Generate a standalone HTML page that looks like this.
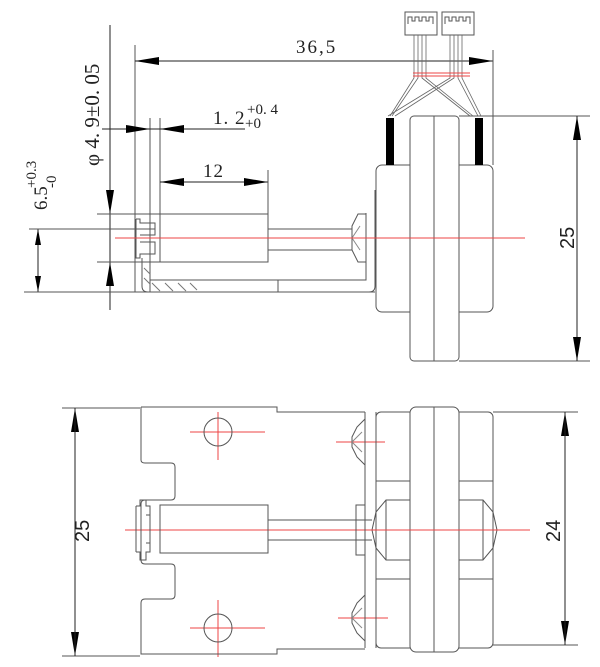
<!DOCTYPE html>
<html><head><meta charset="utf-8"><style>html,body{margin:0;padding:0;background:#fff}svg{display:block}</style></head><body>
<svg width="600" height="667" viewBox="0 0 600 667" xmlns="http://www.w3.org/2000/svg" font-family="'Liberation Serif',serif">
<g fill="none" stroke="#555" stroke-width="1">
<line x1="135" y1="45" x2="135" y2="292"/>
<line x1="135" y1="61" x2="493" y2="61" stroke="#222"/>
<line x1="493" y1="50" x2="493" y2="165"/>
<line x1="150" y1="118" x2="150" y2="292"/>
<line x1="160" y1="118" x2="160" y2="214"/>
<line x1="102" y1="129" x2="245" y2="129" stroke="#222"/>
<line x1="160" y1="182" x2="268" y2="182" stroke="#222"/>
<line x1="268" y1="170" x2="268" y2="214"/>
<line x1="110" y1="25" x2="110" y2="310" stroke="#222"/>
<line x1="97" y1="214" x2="160" y2="214"/>
<line x1="97" y1="262" x2="160" y2="262"/>
<line x1="38" y1="229" x2="38" y2="292" stroke="#222"/>
<line x1="29" y1="229" x2="155" y2="229"/>
<line x1="24" y1="292" x2="375" y2="292"/>
<path d="M136,219 h4 v4 h15 v12 h-15 M136,219 v39 h4 v-4 h15 v-12 h-15"/>
<path d="M142,258 v28 q0,6 6,6 h221 q6,0 6,-6 v-96"/>
<path d="M150,258 v22 h216 v-67"/>
<line x1="278" y1="280" x2="278" y2="292"/>
<path d="M152,283 l8,8 M165,283 l8,8 M178,283 l8,8 M190,283 l7,7 M144,268 l6,6 M144,278 l6,6" stroke="#777"/>
<rect x="160" y="214" width="108" height="48"/>
<line x1="268" y1="229" x2="352" y2="229"/>
<line x1="268" y1="250" x2="352" y2="250"/>
<path d="M366,214 h-8 l-6,12 v24 l6,12 h8"/>
<path d="M352,238 l8,-12 M352,238 l8,12" stroke="#888"/>
<rect x="376" y="165" width="117" height="147" rx="6"/>
<rect x="410" y="116" width="49" height="245" rx="4" fill="#fff"/>
<line x1="434" y1="116" x2="434" y2="361"/>
<line x1="459" y1="116" x2="590" y2="116"/>
<line x1="459" y1="361" x2="590" y2="361"/>
<line x1="577" y1="116" x2="577" y2="361" stroke="#222"/>
<rect x="405" y="12" width="32" height="23"/>
<rect x="442" y="12" width="32" height="23"/>
<path d="M408,24 v-7 h4 v4 h3 v-4 h4 v4 h3 v-4 h4 v4 h3 v-4 h4 v7"/>
<path d="M445,24 v-7 h4 v4 h3 v-4 h4 v4 h3 v-4 h4 v4 h3 v-4 h4 v7"/>
<g stroke="#666" stroke-width="0.8">
<path d="M414,35 v43 L390,116 M418,35 v43 L392,116 M422,35 v43 L470,116 M426,35 v43 L473,116"/>
<path d="M450,35 v43 L388,116 M454,35 v43 L395,116 M458,35 v43 L478,116 M462,35 v43 L481,116"/>
</g>
</g>
<rect x="386" y="118" width="8" height="47" fill="#000"/>
<rect x="475" y="118" width="8" height="47" fill="#000"/>
<g stroke="#e44" stroke-width="1">
<line x1="413" y1="73" x2="470" y2="73"/><line x1="413" y1="76" x2="470" y2="76"/>
<line x1="115" y1="238" x2="525" y2="238"/>
<line x1="125" y1="530" x2="530" y2="530"/>
<line x1="190" y1="432" x2="265" y2="432"/><line x1="218" y1="412" x2="218" y2="460"/>
<line x1="190" y1="628" x2="265" y2="628"/><line x1="218" y1="600" x2="218" y2="657"/>
<line x1="336" y1="442" x2="385" y2="442"/>
<line x1="338" y1="618" x2="388" y2="618"/>
</g>
<g fill="#000">
<path d="M135,61 l24,-4 v8z"/><path d="M493,61 l-24,-4 v8z"/>
<path d="M150,129 l-24,-4 v8z"/><path d="M160,129 l24,-4 v8z"/>
<path d="M160,182 l24,-4 v8z"/><path d="M268,182 l-24,-4 v8z"/>
<path d="M110,214 l-4,-24 h8z"/><path d="M110,262 l-4,24 h8z"/>
<path d="M38,229 l-3,16 h6z"/><path d="M38,292 l-3,-16 h6z"/>
<path d="M577,116 l-4,24 h8z"/><path d="M577,361 l-4,-24 h8z"/>
<path d="M75,408 l-4,24 h8z"/><path d="M75,656 l-4,-24 h8z"/>
<path d="M565,412 l-4,24 h8z"/><path d="M565,645 l-4,-24 h8z"/>
</g>
<g fill="none" stroke="#555" stroke-width="1">
<line x1="62" y1="408" x2="140" y2="408"/>
<line x1="62" y1="656" x2="140" y2="656"/>
<line x1="75" y1="408" x2="75" y2="656" stroke="#222"/>
<line x1="493" y1="412" x2="578" y2="412"/>
<line x1="493" y1="645" x2="578" y2="645"/>
<line x1="565" y1="412" x2="565" y2="645" stroke="#222"/>
<path d="M141,407 h136 v5 h88 M141,407 v53 q0,3 4,3 h26 q4,0 4,4 v29 q0,4 -4,4 h-26 q-4,0 -4,4 v56 q0,4 4,4 h26 q4,0 4,4 v27 q0,4 -4,4 h-26 q-4,0 -4,4 v51 h136 v-5 h88"/>
<path d="M136,506 v46 M136,506 h4 v-6 h6 v6 h4 v9 h-4 M136,552 h4 v8 h6 v-8 h4 v-9 h-4 M150,515 v28"/>
<rect x="160" y="505" width="108" height="48"/>
<line x1="268" y1="520" x2="372" y2="520"/>
<line x1="268" y1="540" x2="372" y2="540"/>
<circle cx="218" cy="432" r="14"/>
<circle cx="218" cy="628" r="14"/>
<line x1="365" y1="412" x2="365" y2="648"/>
<line x1="376" y1="412" x2="376" y2="648"/>
<path d="M365,505 h-9 v50 h9"/>
<path d="M365,419 l-8,8 l-5,10 v10 l5,10 l8,8"/>
<path d="M352,442 l10,-10 M352,442 l10,10" stroke="#888"/>
<path d="M365,595 l-8,8 l-5,10 v10 l5,10 l8,8"/>
<path d="M352,618 l10,-10 M352,618 l10,10" stroke="#888"/>
<rect x="376" y="412" width="117" height="236" rx="5"/>
<line x1="376" y1="481" x2="493" y2="481"/>
<line x1="376" y1="579" x2="493" y2="579"/>
<rect x="410" y="407" width="49" height="245" rx="6" fill="#fff"/>
<line x1="434" y1="407" x2="434" y2="652"/>
<path d="M410,500 h-24 l-10,12 l-4,18 l4,18 l10,12 h24 M386,500 v60"/>
<path d="M459,500 h24 l10,12 l4,18 l-4,18 l-10,12 h-24 M483,500 v60"/>
</g>
<g stroke="#e44" stroke-width="1"><line x1="370" y1="530" x2="530" y2="530"/></g>
<g font-size="19" fill="#222">
<text x="296" y="53" letter-spacing="2">36,5</text>
<text x="213" y="124" letter-spacing="1">1. 2</text>
<text x="247" y="114" font-size="15">+0. 4</text>
<text x="245" y="128" font-size="15">+0</text>
<text x="203" y="177" letter-spacing="1">12</text>
<text transform="translate(99,166) rotate(-90)" font-size="21">φ 4. 9±0. 05</text>
<text transform="translate(47,210) rotate(-90)">6.5</text>
<text transform="translate(36,188) rotate(-90)" font-size="15">+0.3</text>
<text transform="translate(56,188) rotate(-90)" font-size="15">-0</text>
<text transform="translate(574,249) rotate(-90)" font-family="'Liberation Sans',sans-serif" font-size="20">25</text>
<text transform="translate(89,542) rotate(-90)" font-family="'Liberation Sans',sans-serif" font-size="20">25</text>
<text transform="translate(560,542) rotate(-90)" font-family="'Liberation Sans',sans-serif" font-size="20">24</text>
</g>
</svg>
</body></html>
